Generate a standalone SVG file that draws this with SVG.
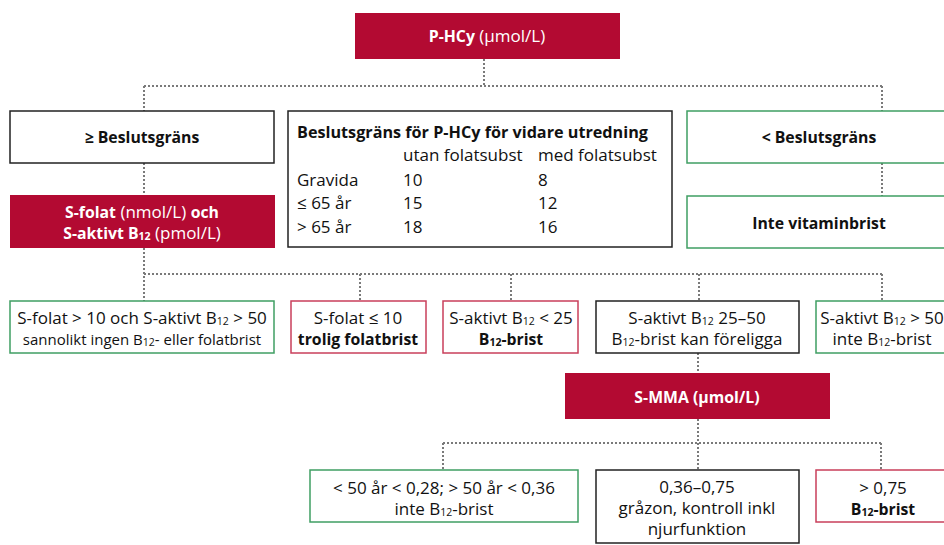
<svg xmlns="http://www.w3.org/2000/svg" width="944" height="545" viewBox="0 0 944 545">
<style>
text{font-family:"Open Sans","Noto Sans","Liberation Sans",sans-serif;font-size:17px;fill:#111;}
.c{text-anchor:middle;}
.b{font-weight:bold;font-size:15.8px;}
.w{fill:#fff;}
.s{font-size:15px;}
.sub{font-size:10.5px;}
.red{fill:#b30a32;}
.bk{fill:#fff;stroke:#222;stroke-width:1.5;}
.gr{fill:#fff;stroke:#3f9e63;stroke-width:1.5;}
.rd{fill:#fff;stroke:#c93f5b;stroke-width:1.5;}
.con path{fill:none;stroke:#7a7a7a;stroke-width:2;stroke-dasharray:2 2;}
</style>
<g class="con">
<path d="M484,59V86M144,86H882M144,86V111M882,86V111"/>
<path d="M144,163V195M882,163V196"/>
<path d="M144,248V301M144,274H882M360,274V301M511,274V301M699,274V301M882,274V301"/>
<path d="M698,353V373"/>
<path d="M698,419V470M443,443H881M443,443V470M881,443V470"/>
</g>
<g id="phcy"><rect class="red" x="355" y="13" width="265" height="46"/>
<text class="c w" x="487" y="42"><tspan class="b">P-HCy</tspan> (µmol/L)</text></g>
<g id="ge"><rect class="bk" x="10" y="111" width="264" height="52"/>
<text class="c b" x="142" y="143">≥ Beslutsgräns</text></g>
<g id="table"><rect class="bk" x="288" y="111" width="384" height="136"/>
<text class="b" x="297" y="138" style="font-size:16.2px">Beslutsgräns för P-HCy för vidare utredning</text>
<text x="403" y="161">utan folatsubst</text><text x="538" y="161">med folatsubst</text>
<text x="297" y="186">Gravida</text><text x="403" y="186">10</text><text x="538" y="186">8</text>
<text x="297" y="209">≤ 65 år</text><text x="403" y="209">15</text><text x="538" y="209">12</text>
<text x="297" y="233">&gt; 65 år</text><text x="403" y="233">18</text><text x="538" y="233">16</text></g>
<g id="lt"><rect class="gr" x="687" y="111" width="265" height="52"/>
<text class="c b" x="819" y="143">&lt; Beslutsgräns</text></g>
<g id="inte"><rect class="gr" x="687" y="196" width="265" height="52"/>
<text class="c b" x="819" y="229">Inte vitaminbrist</text></g>
<g id="sfolat"><rect class="red" x="10" y="195" width="265" height="53"/>
<text class="c w" x="142" y="218"><tspan class="b">S-folat</tspan> (nmol/L) <tspan class="b">och</tspan></text>
<text class="c w" x="142" y="239"><tspan class="b">S-aktivt B<tspan class="sub" dy="1">12</tspan></tspan><tspan dy="-1"> (pmol/L)</tspan></text></g>
<g id="n1"><rect class="gr" x="10" y="301" width="264" height="52"/>
<text class="c" x="142" y="324">S-folat &gt; 10 och S-aktivt B<tspan class="sub" dy="1">12</tspan><tspan dy="-1"> &gt; 50</tspan></text>
<text class="c s" x="142" y="345">sannolikt ingen B<tspan class="sub" dy="1">12</tspan><tspan dy="-1">- eller folatbrist</tspan></text></g>
<g id="n2"><rect class="rd" x="291" y="301" width="135" height="52"/>
<text class="c" x="358" y="324">S-folat ≤ 10</text>
<text class="c b" x="358" y="345">trolig folatbrist</text></g>
<g id="n3"><rect class="rd" x="443" y="301" width="135" height="52"/>
<text class="c" x="511" y="324">S-aktivt B<tspan class="sub" dy="1">12</tspan><tspan dy="-1"> &lt; 25</tspan></text>
<text class="c b" x="511" y="345">B<tspan class="sub" dy="1">12</tspan><tspan dy="-1">-brist</tspan></text></g>
<g id="n4"><rect class="bk" x="596" y="301" width="203" height="52"/>
<text class="c" x="697" y="324">S-aktivt B<tspan class="sub" dy="1">12</tspan><tspan dy="-1"> 25–50</tspan></text>
<text class="c" x="697" y="345">B<tspan class="sub" dy="1">12</tspan><tspan dy="-1">-brist kan föreligga</tspan></text></g>
<g id="n5"><rect class="gr" x="816" y="301" width="136" height="52"/>
<text class="c" x="882" y="324">S-aktivt B<tspan class="sub" dy="1">12</tspan><tspan dy="-1"> &gt; 50</tspan></text>
<text class="c" x="882" y="345">inte B<tspan class="sub" dy="1">12</tspan><tspan dy="-1">-brist</tspan></text></g>
<g id="smma"><rect class="red" x="565" y="373" width="265" height="46"/>
<text class="c b w" x="697" y="403">S-MMA (µmol/L)</text></g>
<g id="m1"><rect class="gr" x="310" y="470" width="268" height="52"/>
<text class="c" x="444" y="494">&lt; 50 år &lt; 0,28; &gt; 50 år &lt; 0,36</text>
<text class="c" x="444" y="515">inte B<tspan class="sub" dy="1">12</tspan><tspan dy="-1">-brist</tspan></text></g>
<g id="m2"><rect class="bk" x="596" y="470" width="203" height="73"/>
<text class="c" x="697" y="493">0,36–0,75</text>
<text class="c" x="697" y="514">gråzon, kontroll inkl</text>
<text class="c" x="697" y="535">njurfunktion</text></g>
<g id="m3"><rect class="rd" x="816" y="470" width="136" height="52"/>
<text class="c" x="883" y="494">&gt; 0,75</text>
<text class="c b" x="883" y="515">B<tspan class="sub" dy="1">12</tspan><tspan dy="-1">-brist</tspan></text></g>
</svg>
